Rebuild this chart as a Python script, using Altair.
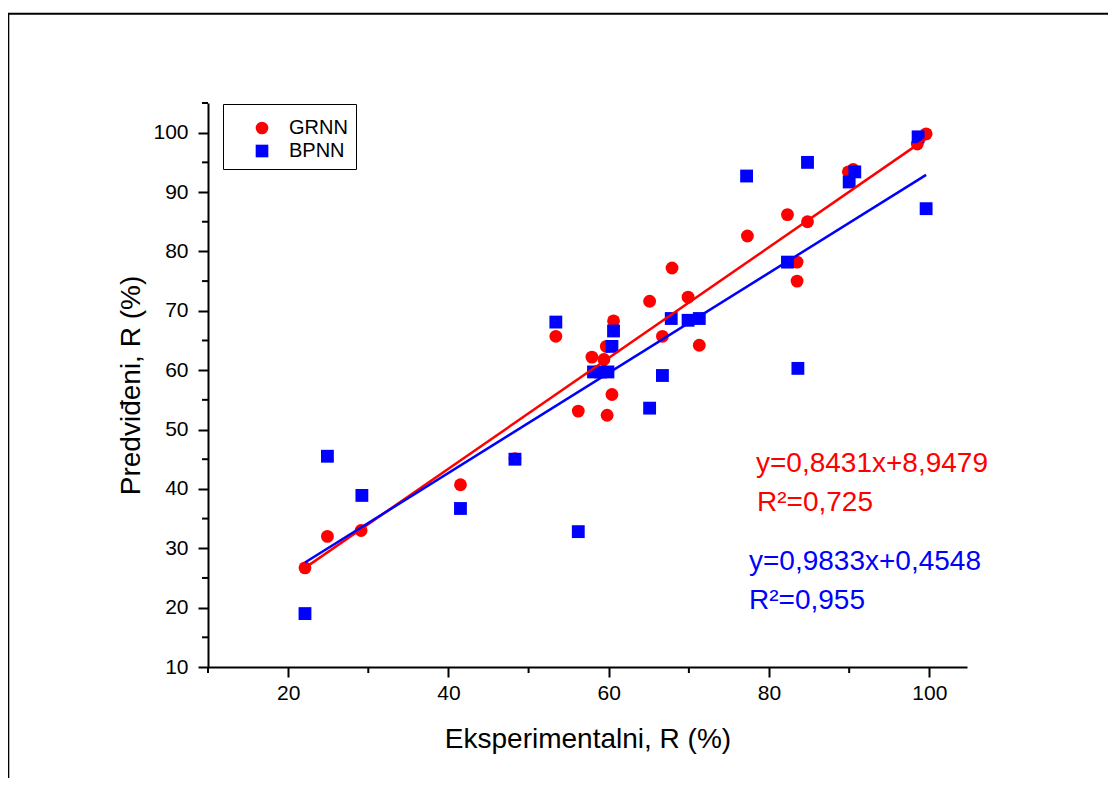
import altair as alt
import pandas as pd

# ---- data ----
exp_grnn = [22.1, 24.9, 29.1, 41.5, 48.3, 53.4, 56.2, 57.9, 59.4, 59.7, 59.8, 60.4, 60.6,
            65.1, 66.7, 67.9, 69.9, 71.3, 77.3, 82.3, 83.5, 83.5, 84.8, 89.9, 90.5, 98.5, 99.6]
pred_grnn = [26.7, 32.0, 33.0, 40.7, 45.1, 65.7, 53.1, 62.2, 61.8, 64.0, 52.4, 55.9, 68.3,
             71.6, 65.7, 77.2, 72.3, 64.2, 82.6, 86.2, 78.2, 75.0, 85.0, 93.4, 93.8, 98.1, 99.8]

exp_bpnn = [22.1, 24.9, 29.2, 41.5, 48.3, 53.4, 56.2, 58.1, 59.0, 59.9, 60.4, 60.6, 65.1,
            66.7, 67.8, 69.9, 71.3, 77.2, 82.3, 83.6, 84.8, 90.0, 90.7, 98.6, 99.6]
pred_bpnn = [19.0, 45.5, 38.9, 36.7, 45.0, 68.1, 32.8, 59.7, 59.7, 59.7, 64.0, 66.6, 53.6,
             59.1, 68.7, 68.4, 68.7, 92.7, 78.2, 60.3, 95.0, 91.7, 93.4, 99.3, 87.2]

# fitted lines, end points
fit_x = [22.1, 99.6]
fit_grnn = [26.7, 99.0]
fit_bpnn = [27.6, 92.9]

series_names = ["GRNN", "BPNN"]
series_colors = ["#ff0000", "#0000ff"]
series_shapes = ["circle", "square"]

x_major = [20, 40, 60, 80, 100]
x_minor = [10, 30, 50, 70, 90]
y_major = [10, 20, 30, 40, 50, 60, 70, 80, 90, 100]
y_minor = [15, 25, 35, 45, 55, 65, 75, 85, 95, 105]

eq_red = ["y=0,8431x+8,9479", "R\u00b2=0,725"]
eq_blue = ["y=0,9833x+0,4548", "R\u00b2=0,955"]

x_title = "Eksperimentalni, R (%)"
y_title = "Predviđeni, R (%)"

FONT = "Liberation Sans"

df = pd.DataFrame({
    "x": exp_grnn + exp_bpnn,
    "y": pred_grnn + pred_bpnn,
    "series": ["GRNN"] * len(exp_grnn) + ["BPNN"] * len(exp_bpnn),
})
fit_df = pd.DataFrame({
    "x": fit_x + fit_x,
    "y": fit_grnn + fit_bpnn,
    "series": ["GRNN"] * 2 + ["BPNN"] * 2,
})

xs = alt.Scale(domain=[10, 104.7], nice=False, zero=False)
ys = alt.Scale(domain=[10, 105], nice=False, zero=False)

legend = alt.Legend(
    title=" ", titleFontSize=6, titlePadding=0,
    orient="none", legendX=15, legendY=1,
    strokeColor="black", fillColor="white",
    padding=8, symbolOffset=21, labelOffset=17, rowPadding=3,
    labelFontSize=20, labelFont=FONT, labelColor="black",
    symbolSize=160, symbolStrokeWidth=0,
)

color = alt.Color("series:N", scale=alt.Scale(domain=series_names, range=series_colors), legend=legend)
shape = alt.Shape("series:N", scale=alt.Scale(domain=series_names, range=series_shapes), legend=legend)

x_axis = alt.Axis(
    values=x_major, format="d", title=x_title, grid=False,
    tickSize=10, tickWidth=2, tickColor="black", domainWidth=2, domainColor="black",
    labelFontSize=21, labelFont=FONT, labelColor="black", labelPadding=5,
    titleFontSize=28, titleFont=FONT, titleFontWeight="normal", titleColor="black", titlePadding=22,
)
y_axis = alt.Axis(
    values=y_major, format="d", title=y_title, grid=False,
    tickSize=10, tickWidth=2, tickColor="black", domainWidth=2, domainColor="black",
    labelFontSize=21, labelFont=FONT, labelColor="black", labelPadding=10,
    titleFontSize=28, titleFont=FONT, titleFontWeight="normal", titleColor="black", titlePadding=7,
)

points = alt.Chart(df).mark_point(filled=True, size=165, opacity=1).encode(
    x=alt.X("x:Q", scale=xs, axis=x_axis),
    y=alt.Y("y:Q", scale=ys, axis=y_axis),
    color=color,
    shape=shape,
)

lines = alt.Chart(fit_df).mark_line(strokeWidth=2.5).encode(
    x=alt.X("x:Q", scale=xs),
    y=alt.Y("y:Q", scale=ys),
    color=alt.Color("series:N", scale=alt.Scale(domain=series_names, range=series_colors), legend=None),
    detail="series:N",
)

xminor = alt.Chart(pd.DataFrame({"v": x_minor})).mark_rule(color="black", strokeWidth=2).encode(
    x=alt.X("v:Q", scale=xs), y=alt.value(564), y2=alt.value(570)
)
yminor = alt.Chart(pd.DataFrame({"v": y_minor})).mark_rule(color="black", strokeWidth=2).encode(
    y=alt.Y("v:Q", scale=ys), x=alt.value(-6), x2=alt.value(0)
)

def txt(s, color, x, y):
    return alt.Chart(alt.Data(values=[{}])).mark_text(
        text=s, color=color, font=FONT, fontSize=28, align="left", baseline="alphabetic"
    ).encode(x=alt.value(x), y=alt.value(y))

texts = [
    txt(eq_red[0], "#ff0000", 548, 369),
    txt(eq_red[1], "#ff0000", 549, 408),
    txt(eq_blue[0], "#0000ff", 541, 467),
    txt(eq_blue[1], "#0000ff", 541, 506),
]

frame = alt.Chart(alt.Data(values=[{}])).mark_rect(filled=False, stroke="black", strokeWidth=2).encode(
    x=alt.value(-199.7), x2=alt.value(1000), y=alt.value(-89.3), y2=alt.value(800)
)

chart = alt.layer(frame, xminor, yminor, points, lines, *texts).properties(
    width=759, height=564,
    padding={"left": 200, "top": 95, "right": 141, "bottom": 111},
    autosize=alt.AutoSizeParams(type="none"),
    background="white",
).resolve_scale(color="shared", shape="shared").configure_view(stroke=None)

chart.save("out.html", embed_options={"renderer": "svg", "actions": False})
